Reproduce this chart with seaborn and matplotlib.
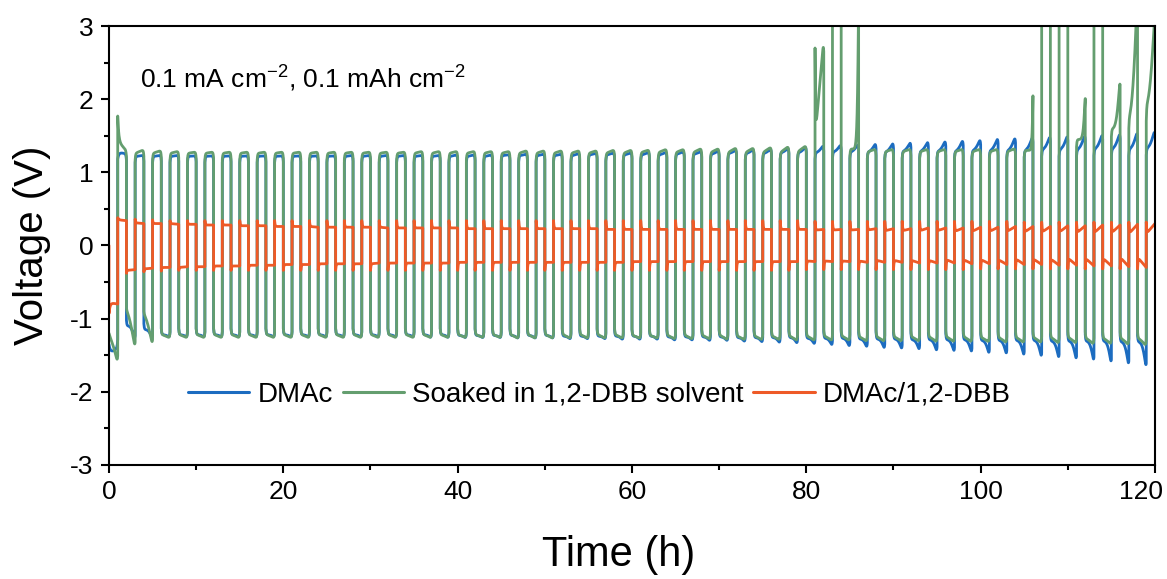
import numpy as np
import pandas as pd
import matplotlib
matplotlib.use("Agg")
import matplotlib.pyplot as plt
import matplotlib.transforms as mtrans
import seaborn as sns
from matplotlib.ticker import MultipleLocator

# ---------------- data (per cycle k: negative half 2k..2k+1 h, positive half 2k+1..2k+2 h) ----------------
series_names = ["DMAc", "Soaked in 1,2-DBB solvent", "DMAc/1,2-DBB"]
colors = ["#1c6cc0", "#649e6f", "#ee5a27"]
half_time = 1.0  # h, 0.1 mAh cm-2 at 0.1 mA cm-2

blue_pos_on = [1.27, 1.22, 1.22, 1.22, 1.22, 1.22, 1.22, 1.22, 1.22, 1.22,
               1.22, 1.22, 1.22, 1.22, 1.22, 1.22, 1.22, 1.22, 1.22, 1.22,
               1.22, 1.22, 1.23, 1.23, 1.23, 1.23, 1.23, 1.24, 1.24, 1.24,
               1.24, 1.24, 1.25, 1.25, 1.25, 1.26, 1.26, 1.26, 1.27, 1.27,
               1.27, 1.28, 1.28, 1.28, 1.28, 1.29, 1.29, 1.29, 1.29, 1.30,
               1.30, 1.30, 1.30, 1.31, 1.31, 1.31, 1.32, 1.32, 1.32, 1.33]
blue_pos_end = [1.25, 1.24, 1.24, 1.24, 1.23, 1.23, 1.23, 1.23, 1.23, 1.23,
                1.23, 1.23, 1.23, 1.24, 1.24, 1.24, 1.24, 1.24, 1.24, 1.25,
                1.25, 1.25, 1.25, 1.26, 1.26, 1.26, 1.27, 1.27, 1.28, 1.28,
                1.29, 1.29, 1.30, 1.30, 1.31, 1.32, 1.33, 1.34, 1.35, 1.37,
                1.39, 1.40, 1.41, 1.42, 1.43, 1.44, 1.45, 1.46, 1.47, 1.48,
                1.50, 1.51, 1.52, 1.53, 1.54, 1.55, 1.56, 1.57, 1.59, 1.61]
blue_neg_on = [-1.45, -1.10, -1.15, -1.22, -1.22, -1.22, -1.22, -1.22, -1.22, -1.22,
               -1.22, -1.22, -1.22, -1.22, -1.22, -1.22, -1.22, -1.22, -1.22, -1.22,
               -1.23, -1.23, -1.23, -1.23, -1.23, -1.23, -1.24, -1.24, -1.24, -1.24,
               -1.24, -1.24, -1.25, -1.25, -1.25, -1.25, -1.26, -1.26, -1.26, -1.26,
               -1.27, -1.27, -1.27, -1.28, -1.28, -1.28, -1.29, -1.29, -1.29, -1.29,
               -1.30, -1.30, -1.30, -1.30, -1.31, -1.31, -1.31, -1.31, -1.32, -1.32]
blue_neg_end = [-1.38, -1.32, -1.30, -1.27, -1.27, -1.27, -1.27, -1.27, -1.27, -1.27,
                -1.27, -1.27, -1.27, -1.27, -1.27, -1.27, -1.27, -1.27, -1.28, -1.28,
                -1.28, -1.28, -1.28, -1.29, -1.29, -1.29, -1.30, -1.30, -1.30, -1.31,
                -1.31, -1.31, -1.32, -1.32, -1.33, -1.33, -1.34, -1.35, -1.36, -1.37,
                -1.38, -1.40, -1.42, -1.43, -1.45, -1.46, -1.47, -1.49, -1.50, -1.51,
                -1.53, -1.54, -1.56, -1.58, -1.60, -1.62, -1.64, -1.67, -1.70, -1.73]

green_pos_on = [1.42, 1.26, 1.26, 1.26, 1.26, 1.26, 1.26, 1.26, 1.26, 1.26,
                1.26, 1.26, 1.26, 1.26, 1.26, 1.26, 1.26, 1.26, 1.26, 1.26,
                1.26, 1.26, 1.26, 1.26, 1.26, 1.26, 1.26, 1.26, 1.26, 1.26,
                1.27, 1.27, 1.27, 1.27, 1.27, 1.27, 1.27, 1.27, 1.27, 1.28,
                1.45, 3.60, 1.32, 1.28, 1.28, 1.28, 1.28, 1.28, 1.28, 1.28,
                1.28, 1.28, 1.30, 3.60, 3.60, 1.45, 3.60, 1.60, 1.78, 1.95]
green_pos_end = [1.30, 1.31, 1.30, 1.29, 1.28, 1.28, 1.28, 1.28, 1.28, 1.28,
                 1.28, 1.28, 1.28, 1.28, 1.28, 1.28, 1.28, 1.29, 1.29, 1.29,
                 1.29, 1.29, 1.29, 1.30, 1.30, 1.30, 1.30, 1.30, 1.31, 1.31,
                 1.31, 1.32, 1.32, 1.33, 1.33, 1.34, 1.34, 1.35, 1.36, 1.37,
                 2.85, 3.60, 3.60, 1.32, 1.32, 1.32, 1.32, 1.32, 1.32, 1.32,
                 1.32, 1.33, 2.20, 3.60, 3.60, 2.16, 3.60, 2.36, 3.60, 3.30]
green_pos_jump = {0: 1.77, 40: 2.70, 41: 3.60, 53: 3.60, 54: 3.60, 56: 3.60, 58: 1.60, 59: 1.70}
green_pos_shape = {40: 1.0, 42: 8.0, 52: 12.0, 55: 6.0, 57: 3.0, 58: 2.0, 59: 2.0}
green_neg_on = [-1.25, -0.90, -0.95, -1.22, -1.22, -1.22, -1.22, -1.22, -1.22, -1.22,
                -1.22, -1.22, -1.22, -1.22, -1.22, -1.22, -1.22, -1.22, -1.22, -1.22,
                -1.22, -1.22, -1.22, -1.22, -1.22, -1.22, -1.22, -1.22, -1.22, -1.22,
                -1.23, -1.23, -1.23, -1.23, -1.23, -1.23, -1.24, -1.24, -1.24, -1.24,
                -1.24, -1.24, -1.24, -1.25, -1.25, -1.25, -1.25, -1.25, -1.25, -1.25,
                -1.26, -1.26, -1.26, -1.26, -1.26, -1.26, -1.27, -1.27, -1.27, -1.27]
green_neg_end = [-1.62, -1.42, -1.38, -1.27, -1.27, -1.27, -1.27, -1.27, -1.27, -1.27,
                 -1.27, -1.27, -1.27, -1.27, -1.27, -1.27, -1.27, -1.27, -1.27, -1.27,
                 -1.27, -1.27, -1.27, -1.28, -1.28, -1.28, -1.28, -1.28, -1.28, -1.28,
                 -1.28, -1.28, -1.29, -1.29, -1.29, -1.30, -1.30, -1.30, -1.30, -1.31,
                 -1.31, -1.31, -1.31, -1.32, -1.32, -1.32, -1.32, -1.33, -1.33, -1.33,
                 -1.33, -1.34, -1.34, -1.34, -1.35, -1.35, -1.36, -1.36, -1.37, -1.38]
green_neg_jump = {0: -1.20, 1: -0.85, 2: -0.90}

red_pos_peak = [0.38, 0.36, 0.35, 0.34, 0.34, 0.34, 0.34, 0.34, 0.34, 0.34,
                0.34, 0.34, 0.34, 0.34, 0.34, 0.34, 0.34, 0.34, 0.34, 0.34,
                0.34, 0.34, 0.34, 0.34, 0.34, 0.34, 0.34, 0.34, 0.34, 0.34,
                0.34, 0.34, 0.34, 0.34, 0.34, 0.34, 0.34, 0.34, 0.34, 0.34,
                0.33, 0.33, 0.33, 0.33, 0.33, 0.33, 0.33, 0.33, 0.33, 0.33,
                0.33, 0.33, 0.32, 0.32, 0.32, 0.32, 0.32, 0.32, 0.32, 0.32]
red_pos_on = [0.35, 0.31, 0.30, 0.30, 0.29, 0.28, 0.28, 0.27, 0.27, 0.26,
              0.26, 0.26, 0.25, 0.25, 0.25, 0.25, 0.24, 0.24, 0.24, 0.24,
              0.23, 0.23, 0.23, 0.23, 0.23, 0.23, 0.23, 0.23, 0.22, 0.22,
              0.22, 0.22, 0.22, 0.22, 0.22, 0.22, 0.22, 0.22, 0.22, 0.22,
              0.21, 0.21, 0.21, 0.21, 0.20, 0.20, 0.20, 0.20, 0.19, 0.19,
              0.19, 0.19, 0.18, 0.18, 0.18, 0.17, 0.17, 0.17, 0.16, 0.16]
red_pos_end = [0.34, 0.30, 0.30, 0.29, 0.29, 0.28, 0.28, 0.27, 0.27, 0.26,
               0.26, 0.25, 0.25, 0.25, 0.25, 0.24, 0.24, 0.24, 0.24, 0.24,
               0.23, 0.23, 0.23, 0.23, 0.23, 0.23, 0.23, 0.23, 0.22, 0.22,
               0.22, 0.22, 0.22, 0.22, 0.22, 0.22, 0.22, 0.22, 0.22, 0.22,
               0.22, 0.22, 0.22, 0.23, 0.23, 0.23, 0.24, 0.24, 0.24, 0.25,
               0.25, 0.26, 0.26, 0.26, 0.27, 0.27, 0.28, 0.28, 0.29, 0.30]
red_neg_peak = [-0.93, -0.38, -0.36, -0.35, -0.34, -0.34, -0.34, -0.34, -0.34, -0.34,
                -0.34, -0.34, -0.34, -0.34, -0.34, -0.34, -0.34, -0.34, -0.34, -0.34,
                -0.34, -0.34, -0.34, -0.34, -0.34, -0.34, -0.34, -0.34, -0.34, -0.34,
                -0.34, -0.34, -0.34, -0.34, -0.34, -0.34, -0.34, -0.34, -0.34, -0.34,
                -0.33, -0.33, -0.33, -0.33, -0.33, -0.33, -0.33, -0.33, -0.33, -0.33,
                -0.32, -0.32, -0.32, -0.32, -0.32, -0.32, -0.32, -0.32, -0.32, -0.32]
red_neg_on = [-0.78, -0.34, -0.32, -0.30, -0.30, -0.29, -0.28, -0.28, -0.27, -0.27,
              -0.26, -0.26, -0.25, -0.25, -0.25, -0.25, -0.24, -0.24, -0.24, -0.24,
              -0.23, -0.23, -0.23, -0.23, -0.23, -0.23, -0.23, -0.23, -0.23, -0.23,
              -0.22, -0.22, -0.22, -0.22, -0.22, -0.22, -0.22, -0.22, -0.22, -0.22,
              -0.21, -0.21, -0.21, -0.21, -0.20, -0.20, -0.20, -0.20, -0.19, -0.19,
              -0.19, -0.19, -0.18, -0.18, -0.18, -0.17, -0.17, -0.17, -0.16, -0.16]
red_neg_end = [-0.80, -0.33, -0.31, -0.30, -0.29, -0.29, -0.28, -0.28, -0.27, -0.27,
               -0.26, -0.26, -0.25, -0.25, -0.25, -0.24, -0.24, -0.24, -0.24, -0.24,
               -0.23, -0.23, -0.23, -0.23, -0.23, -0.23, -0.23, -0.23, -0.23, -0.23,
               -0.22, -0.22, -0.22, -0.22, -0.22, -0.22, -0.22, -0.22, -0.22, -0.22,
               -0.22, -0.22, -0.22, -0.23, -0.23, -0.23, -0.24, -0.24, -0.24, -0.25,
               -0.25, -0.26, -0.26, -0.26, -0.27, -0.27, -0.28, -0.28, -0.29, -0.30]

x_ticks_major = [0, 20, 40, 60, 80, 100, 120]
y_ticks_major = [-3, -2, -1, 0, 1, 2, 3]


# ---------------- build profiles ----------------
def half_segment(t0, jump, on, end, p, rnd, tau):
    s = np.linspace(0.0, 1.0, 41)
    v = on + (end - on) * s ** p
    v = v + (jump - on) * np.exp(-s / tau)
    v = v * (1 - rnd * np.exp(-(1 - s) / 0.05))
    return t0 + s * half_time, v


def build(pos_on, pos_end, neg_on, neg_end, pos_jump=None, neg_jump=None,
          pos_p=1.0, neg_p=1.0, pos_shape=None, neg_shape=None, rnd=0.0,
          pos_jump_dict=None, neg_jump_dict=None, start=None):
    ts, vs = [], []
    if start is not None:
        ts.append(np.array([0.0]))
        vs.append(np.array([start]))
    for k in range(len(pos_on)):
        if neg_jump is not None:
            j = neg_jump[k]
        elif neg_jump_dict and k in neg_jump_dict:
            j = neg_jump_dict[k]
        else:
            j = neg_on[k] * (1 - rnd)
        p = neg_shape.get(k, neg_p) if neg_shape else neg_p
        t, v = half_segment(2 * k * half_time, j, neg_on[k], neg_end[k], p,
                            rnd, 0.12 if k == 0 else 0.05)
        ts.append(t); vs.append(v)
        if pos_jump is not None:
            j = pos_jump[k]
        elif pos_jump_dict and k in pos_jump_dict:
            j = pos_jump_dict[k]
        else:
            j = pos_on[k] * (1 - rnd)
        p = pos_shape.get(k, pos_p) if pos_shape else pos_p
        t, v = half_segment((2 * k + 1) * half_time, j, pos_on[k], pos_end[k], p,
                            rnd, 0.12 if k == 0 else 0.05)
        ts.append(t); vs.append(v)
    return np.concatenate(ts), np.concatenate(vs)


tb, vb = build(blue_pos_on, blue_pos_end, blue_neg_on, blue_neg_end,
               pos_p=2.0, neg_p=3.0, rnd=0.07)
tg, vg = build(green_pos_on, green_pos_end, green_neg_on, green_neg_end,
               pos_p=1.0, neg_p=1.5, pos_shape=green_pos_shape, rnd=0.07,
               pos_jump_dict=green_pos_jump, neg_jump_dict=green_neg_jump)
tr, vr = build(red_pos_on, red_pos_end, red_neg_on, red_neg_end,
               pos_jump=red_pos_peak, neg_jump=red_neg_peak, rnd=0.0, start=0.0)

df = pd.concat([
    pd.DataFrame({"Time": tb, "Voltage": vb, "Cell": series_names[0]}),
    pd.DataFrame({"Time": tg, "Voltage": vg, "Cell": series_names[1]}),
    pd.DataFrame({"Time": tr, "Voltage": vr, "Cell": series_names[2]}),
], ignore_index=True)

# ---------------- plot ----------------
sns.set_style("ticks")
plt.rcParams["font.family"] = ["Liberation Sans", "DejaVu Sans"]
plt.rcParams["axes.unicode_minus"] = False
plt.rcParams["mathtext.fontset"] = "custom"
plt.rcParams["mathtext.rm"] = "Liberation Sans"
plt.rcParams["mathtext.it"] = "Liberation Sans:italic"
plt.rcParams["mathtext.default"] = "regular"
plt.rcParams["text.color"] = "black"
plt.rcParams["axes.labelcolor"] = "black"
plt.rcParams["xtick.color"] = "black"
plt.rcParams["ytick.color"] = "black"

fig = plt.figure(figsize=(11.67, 5.79), dpi=100)
ax = fig.add_axes([0.0934, 0.197, 0.8963, 0.758])

sns.lineplot(data=df, x="Time", y="Voltage", hue="Cell", hue_order=series_names,
             palette=colors, sort=False, estimator=None, linewidth=2.0, ax=ax)

ax.set_xlim(0, 120)
ax.set_ylim(-3, 3)
ax.set_xticks(x_ticks_major)
ax.set_yticks(y_ticks_major)
ax.xaxis.set_minor_locator(MultipleLocator(10))
ax.yaxis.set_minor_locator(MultipleLocator(0.5))
ax.tick_params(which="major", direction="out", length=6, width=1.5, labelsize=19, pad=5)
ax.tick_params(which="minor", direction="out", length=3.5, width=1.5)
for sp in ax.spines.values():
    sp.set_linewidth(1.5)
    sp.set_color("black")

ax.set_xlabel("Time (h)", fontsize=30)
ax.set_ylabel("Voltage (V)", fontsize=29)
ax.xaxis.set_label_coords(0.487, -0.16)
ax.yaxis.set_label_coords(-0.055, 0.5)

ax.text(0.030, 0.88, r"0.1 mA cm$^{-2}$, 0.1 mAh cm$^{-2}$", transform=ax.transAxes,
        fontsize=19, va="center", ha="left")

handles, labels = ax.get_legend_handles_labels()
leg = ax.legend(handles, labels, ncol=3, loc="center", bbox_to_anchor=(0.469, 0.16),
                frameon=False, fontsize=20, handlelength=2.2, handletextpad=0.3,
                columnspacing=0.35)
for h in leg.get_lines():
    h.set_linewidth(2.2)

# keep the last x tick label inside the canvas
last = ax.get_xticklabels()[-1]
last.set_transform(last.get_transform() +
                   mtrans.ScaledTranslation(-10 / 72, 0, fig.dpi_scale_trans))

fig.savefig("out.png", dpi=100)
